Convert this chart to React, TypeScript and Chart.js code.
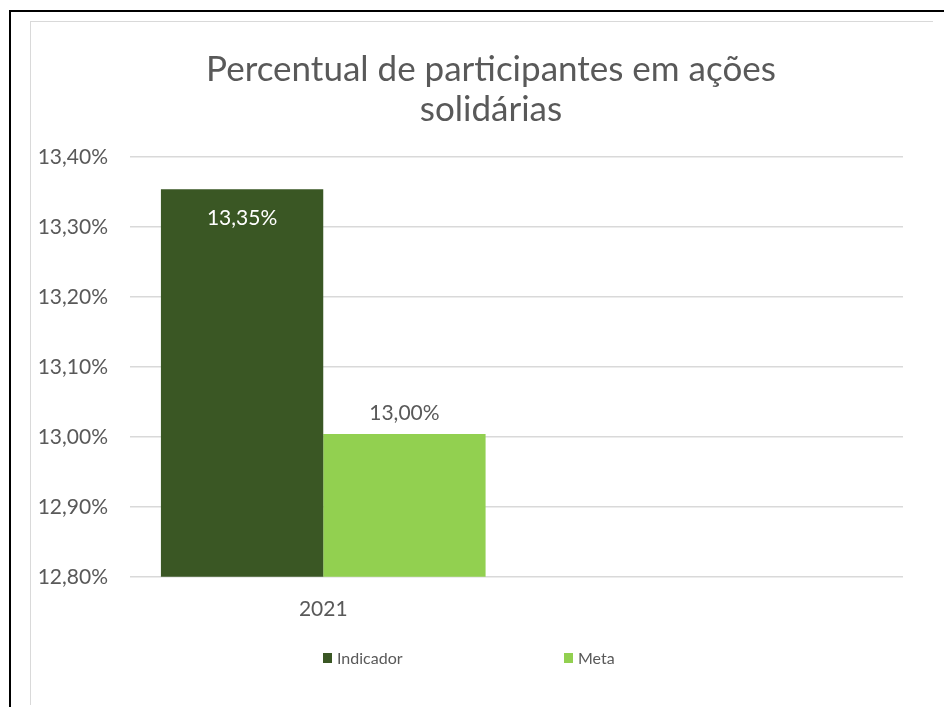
import React, { useEffect, useRef } from 'react';
import { Chart, registerables } from 'chart.js';

Chart.register(...registerables);

const categories = ['2021', ''];
const seriesNames = ['Indicador', 'Meta'];
const indicadorValues: (number | null)[] = [13.354, null];
const metaValues: (number | null)[] = [13.004, null];
const titleLines = ['Percentual de participantes em ações', 'solidárias'];
const yMin = 12.8;
const yMax = 13.4;
const yStep = 0.1;

const DARK = '#3A5724';
const LIGHT = '#92D050';
const TEXT = '#595959';
const FONT = 'Lato';

const fmt = (v: number) => v.toFixed(2).replace('.', ',') + '%';

const labelPlugin = {
  id: 'barLabels',
  afterDatasetsDraw(chart: any) {
    const ctx = chart.ctx;
    chart.data.datasets.forEach((ds: any, di: number) => {
      const meta = chart.getDatasetMeta(di);
      meta.data.forEach((bar: any, i: number) => {
        const v = ds.data[i];
        if (v == null) return;
        ctx.save();
        ctx.font = `21px ${FONT}`;
        ctx.textAlign = 'center';
        ctx.textBaseline = 'middle';
        if (di === 0) {
          ctx.fillStyle = '#FFFFFF';
          ctx.fillText(fmt(v), bar.x, bar.y + 29);
        } else {
          ctx.fillStyle = TEXT;
          ctx.fillText(fmt(v), bar.x, bar.y - 21);
        }
        ctx.restore();
      });
    });
  },
};

const titlePlugin = {
  id: 'offsetTitle',
  afterDraw(chart: any) {
    const ctx = chart.ctx;
    ctx.save();
    ctx.font = `35px ${FONT}`;
    ctx.fillStyle = TEXT;
    ctx.textAlign = 'center';
    ctx.textBaseline = 'middle';
    titleLines.forEach((line, i) => {
      ctx.fillText(line, 460, 48 + i * 40);
    });
    ctx.restore();
  },
};

export default function App() {
  const ref = useRef<HTMLCanvasElement>(null);

  useEffect(() => {
    if (!ref.current) return;
    const chart = new Chart(ref.current, {
      type: 'bar',
      data: {
        labels: categories,
        datasets: [
          {
            label: seriesNames[0],
            data: indicadorValues,
            backgroundColor: DARK,
            categoryPercentage: 0.84,
            barPercentage: 1,
          },
          {
            label: seriesNames[1],
            data: metaValues,
            backgroundColor: LIGHT,
            categoryPercentage: 0.84,
            barPercentage: 1,
          },
        ],
      },
      options: {
        animation: false,
        responsive: false,
        maintainAspectRatio: false,
        layout: { padding: { top: 135, right: 30, bottom: 0, left: 0 } },
        plugins: {
          legend: { display: false },
          tooltip: { enabled: false },
          title: { display: false },
        },
        scales: {
          x: {
            grid: { display: false, drawTicks: false },
            border: { display: false },
            ticks: { color: TEXT, font: { family: FONT, size: 21 }, padding: 20 },
          },
          y: {
            min: yMin,
            max: yMax,
            grid: { color: '#D9D9D9', lineWidth: 1.5, drawTicks: false },
            border: { display: false },
            ticks: {
              stepSize: yStep,
              color: TEXT,
              font: { family: FONT, size: 21 },
              padding: 22,
              callback: (v: any) => fmt(Number(v)),
            },
            afterFit: (scale: any) => {
              scale.width = 99;
            },
          },
        },
      },
      plugins: [labelPlugin, titlePlugin],
    });
    return () => chart.destroy();
  }, []);

  const legendColors = [DARK, LIGHT];

  return (
    <div>
      <div
        style={{
          position: 'fixed',
          left: 9,
          top: 10,
          width: 935,
          height: 697,
          borderTop: '2px solid #000',
          borderLeft: '2px solid #000',
          boxSizing: 'border-box',
        }}
      />
      <div
        style={{
          position: 'fixed',
          left: 30,
          top: 21,
          width: 903,
          height: 684,
          borderTop: '1px solid #D9D9D9',
          borderLeft: '1px solid #D9D9D9',
          boxSizing: 'border-box',
        }}
      />
      <div style={{ position: 'fixed', left: 31, top: 22, width: 902, height: 620 }}>
        <canvas ref={ref} width={902} height={620} style={{ display: 'block' }} />
      </div>
      <div
        style={{
          position: 'fixed',
          left: 323,
          top: 648,
          display: 'flex',
          fontFamily: FONT,
          fontSize: 16,
          color: TEXT,
        }}
      >
        {seriesNames.map((n, i) => (
          <div key={n} style={{ width: 241, display: 'flex', alignItems: 'center' }}>
            <span
              style={{
                display: 'inline-block',
                width: 9,
                height: 10,
                background: legendColors[i],
                marginRight: 5,
              }}
            />
            <span>{n}</span>
          </div>
        ))}
      </div>
    </div>
  );
}
